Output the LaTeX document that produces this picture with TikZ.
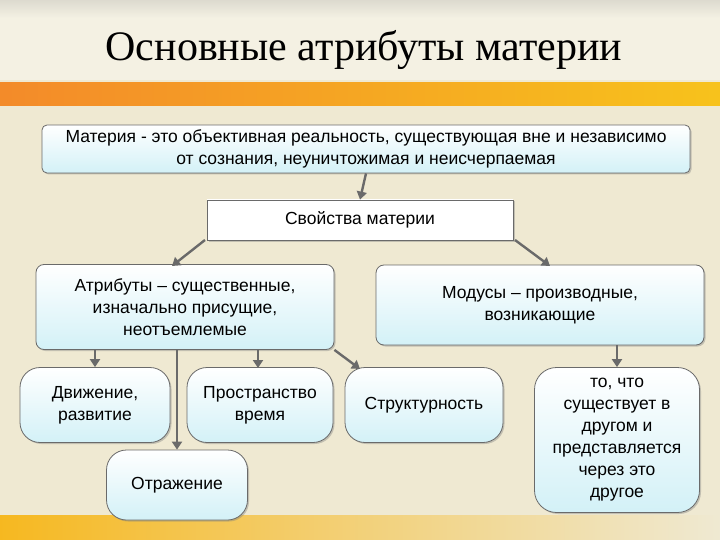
\documentclass[tikz,border=0pt]{standalone}
\usepackage{fontspec}
\setmainfont{Liberation Sans}
\newfontfamily\titlefont{Liberation Serif}
\usetikzlibrary{arrows.meta,shadows}
\definecolor{bgc}{HTML}{EFE9D2}
\definecolor{topc}{HTML}{F4F1E3}
\definecolor{boxb}{HTML}{D3F1F7}
\definecolor{orng}{HTML}{F29A2E}
\definecolor{edge}{HTML}{6A6A6A}
\tikzset{
  x=1pt,y=1pt,
  bx/.style={draw=edge,line width=0.8pt,top color=white,bottom color=boxb,align=center,font=\fontsize{17.5}{22}\selectfont,inner sep=2pt,drop shadow={shadow xshift=1.5pt,shadow yshift=-1.5pt,opacity=0.4}},
  arr/.style={draw=edge,line width=2.4pt,-{Triangle[length=8pt,width=10pt]}},
}
\begin{document}
\begin{tikzpicture}
\useasboundingbox (0,0) rectangle (720,-540);
\fill[bgc] (0,0) rectangle (720,-540);
\fill[topc] (0,0) rectangle (720,-80);
\shade[top color=topc!80!gray,bottom color=topc] (0,0) rectangle (720,-18);
\shade[left color=orng!90!red,right color=orng!60!yellow] (0,-83) rectangle (720,-106);
\shade[left color=orng!70!yellow,right color=bgc] (0,-515) rectangle (720,-540);
\node[font=\titlefont\fontsize{42}{44}\selectfont] (title) at (364,-50) {Основные атрибуты материи};

\node[bx,rounded corners=5pt,minimum width=648,minimum height=48] (m) at (366,-149) {Материя - это объективная реальность, существующая вне и независимо\\от сознания, неуничтожимая и неисчерпаемая};
\node[bx,top color=white,bottom color=white,minimum width=306,minimum height=40] (s) at (360,-220) {Свойства материи};
\node[bx,rounded corners=8pt,minimum width=298,minimum height=85] (a) at (185,-307) {Атрибуты – существенные,\\изначально присущие,\\неотъемлемые};
\node[bx,rounded corners=8pt,minimum width=328,minimum height=80] (mo) at (540,-305) {Модусы – производные,\\возникающие};
\node[bx,rounded corners=20pt,minimum width=150,minimum height=75] (d) at (95,-405) {Движение,\\развитие};
\node[bx,rounded corners=20pt,minimum width=146,minimum height=75] (p) at (260,-405) {Пространство\\время};
\node[bx,rounded corners=20pt,minimum width=158,minimum height=75] (st) at (424,-405) {Структурность};
\node[bx,rounded corners=20pt,minimum width=141,minimum height=70] (o) at (177,-485) {Отражение};
\node[bx,rounded corners=22pt,minimum width=165,minimum height=145] (dr) at (617,-440) {то, что\\существует в\\другом и\\представляется\\через это\\другое};

\draw[arr] (m.south) -- (s.north);
\coordinate (sl) at (205,-240); \coordinate (sr) at (515,-240);
\draw[arr] (sl) -- (172,-266);
\draw[arr] (sr) -- (550,-266);
\draw[arr] (95,-350) -- (d.north);
\draw[arr] (258,-350) -- (258,-368);
\draw[arr] (a.south east) -- (360,-369);
\draw[arr] (177,-350) -- (o.north);
\draw[arr] (617,-345) -- (dr.north);
\end{tikzpicture}
\end{document}
